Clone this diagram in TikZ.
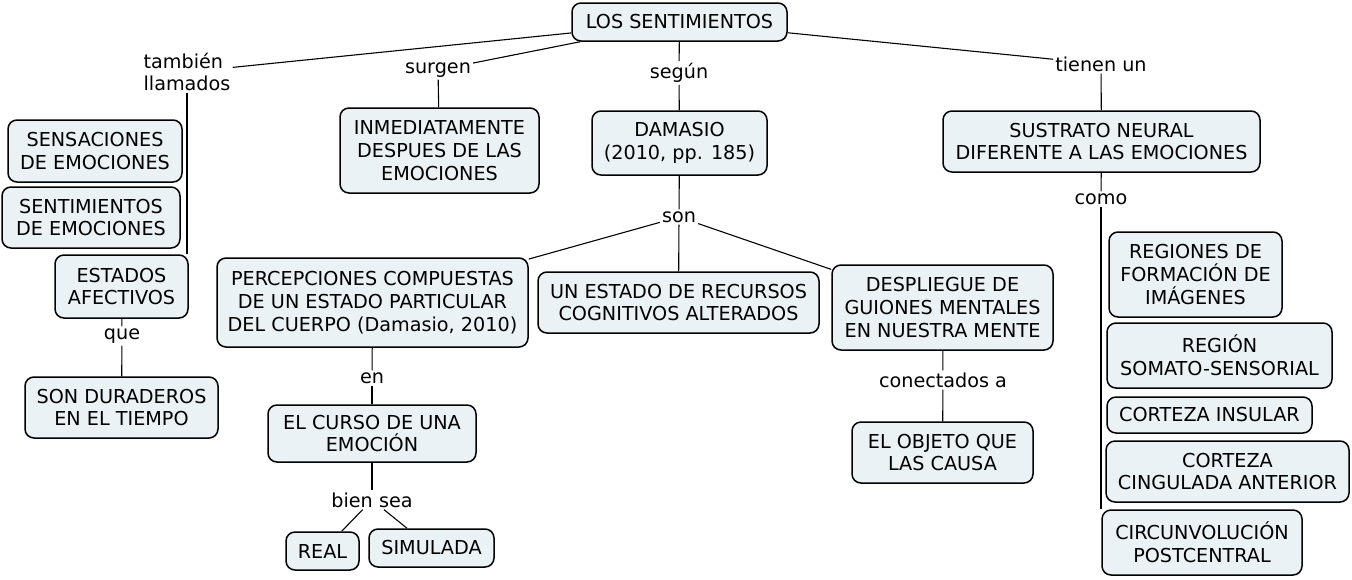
\documentclass[tikz,border=0pt]{standalone}
\usepackage{fontspec}
\setmainfont{DejaVu Sans}
\definecolor{boxfill}{RGB}{235,242,245}
\begin{document}
\begin{tikzpicture}[x=1pt,y=-1pt,
  box/.style={draw=black, fill=boxfill, rounded corners=9pt, line width=1.5pt, align=center, inner sep=0pt, font=\fontsize{19.2}{22.8}\selectfont},
  lbl/.style={align=center, inner sep=2pt, font=\fontsize{19.2}{22.8}\selectfont},
  con/.style={line width=1.1pt, draw=black}]
\useasboundingbox (0,0) rectangle (1352,579);
% concepts
\node[box, minimum width=215pt, minimum height=38pt] (ls) at (679.5,22) {LOS SENTIMIENTOS};
\node[box, minimum width=174pt, minimum height=62pt] (sen) at (95,151) {SENSACIONES\\DE EMOCIONES};
\node[box, minimum width=178pt, minimum height=61pt] (sent) at (91,217.5) {SENTIMIENTOS\\DE EMOCIONES};
\node[box, minimum width=133pt, minimum height=63pt] (est) at (121.5,286.5) {ESTADOS\\AFECTIVOS};
\node[box, minimum width=193pt, minimum height=61pt] (dur) at (121.5,407.5) {SON DURADEROS\\EN EL TIEMPO};
\node[box, minimum width=199pt, minimum height=85pt] (inm) at (439.5,150.5) {INMEDIATAMENTE\\DESPUES DE LAS\\EMOCIONES};
\node[box, minimum width=175pt, minimum height=64pt] (dam) at (679.5,143) {DAMASIO\\(2010, pp. 185)};
\node[box, minimum width=311pt, minimum height=89pt] (per) at (372.5,302.5) {PERCEPCIONES COMPUESTAS\\DE UN ESTADO PARTICULAR\\DEL CUERPO (Damasio, 2010)};
\node[box, minimum width=281pt, minimum height=61pt] (une) at (678.5,302.5) {UN ESTADO DE RECURSOS\\COGNITIVOS ALTERADOS};
\node[box, minimum width=221pt, minimum height=85pt] (des) at (942.5,307.5) {DESPLIEGUE DE\\GUIONES MENTALES\\EN NUESTRA MENTE};
\node[box, minimum width=181pt, minimum height=61pt] (obj) at (942.5,452.5) {EL OBJETO QUE\\LAS CAUSA};
\node[box, minimum width=208pt, minimum height=57pt] (cur) at (372,433.5) {EL CURSO DE UNA\\EMOCIÓN};
\node[box, minimum width=73pt, minimum height=38pt] (real) at (322.5,551) {REAL};
\node[box, minimum width=125pt, minimum height=38pt] (sim) at (431.5,548) {SIMULADA};
\node[box, minimum width=317pt, minimum height=61pt] (sus) at (1101.5,141.5) {SUSTRATO NEURAL\\DIFERENTE A LAS EMOCIONES};
\node[box, minimum width=173pt, minimum height=85pt] (reg) at (1195.5,274.5) {REGIONES DE\\FORMACIÓN DE\\IMÁGENES};
\node[box, minimum width=225pt, minimum height=65pt] (som) at (1219.5,355.5) {REGIÓN\\SOMATO-SENSORIAL};
\node[box, minimum width=205pt, minimum height=36pt] (ins) at (1209.5,415) {CORTEZA INSULAR};
\node[box, minimum width=243pt, minimum height=61pt] (cin) at (1227.5,471.5) {CORTEZA\\CINGULADA ANTERIOR};
\node[box, minimum width=200pt, minimum height=65pt] (cir) at (1202,542.5) {CIRCUNVOLUCIÓN\\POSTCENTRAL};
% linking phrases
\node[lbl, align=left] (tl) at (187,72) {también\\llamados};
\node[lbl] (sg) at (438,70) {surgen};
\node[lbl] (se) at (679,73) {según};
\node[lbl] (sn) at (679,217) {son};
\node[lbl] (tu) at (1101,64) {tienen un};
\node[lbl] (co) at (1101,199) {como};
\node[lbl] (qu) at (122,336) {que};
\node[lbl] (en) at (372,378) {en};
\node[lbl] (ca) at (943,380) {conectados a};
\node[lbl] (bs) at (372,500) {bien sea};
% connectors
\draw[con] (ls) -- (tl);
\draw[con] (tl.south) -- (tl.south |- est.north);
\draw[con] (est) -- (qu);
\draw[con] (qu) -- (dur);
\draw[con] (ls) -- (sg);
\draw[con] (sg) -- (inm);
\draw[con] (ls) -- (se);
\draw[con] (se) -- (dam);
\draw[con] (dam) -- (sn);
\draw[con] (sn) -- (per);
\draw[con] (sn) -- (une);
\draw[con] (sn) -- (des);
\draw[con] (per) -- (en);
\draw[con] (en) -- (cur);
\draw[con] (cur) -- (bs);
\draw[con] (bs) -- (real);
\draw[con] (bs) -- (sim);
\draw[con] (des) -- (ca);
\draw[con] (ca) -- (obj);
\draw[con] (ls) -- (tu);
\draw[con] (tu) -- (sus);
\draw[con] (sus) -- (co);
\draw[con] (co.south) -- (co.south |- cir.north);
\end{tikzpicture}
\end{document}
